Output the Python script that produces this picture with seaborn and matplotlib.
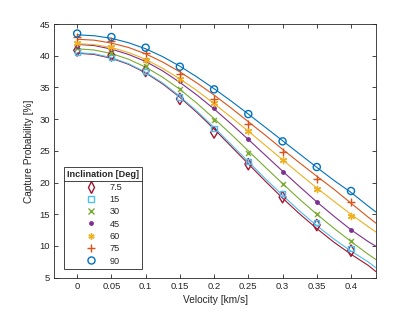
import numpy as np
import pandas as pd
import seaborn as sns
import matplotlib.pyplot as plt
from matplotlib.lines import Line2D

# measured capture probability [%] at each velocity [km/s]
velocity = [0, 0.05, 0.1, 0.15, 0.2, 0.25, 0.3, 0.35, 0.4]
inclinations = ['7.5', '15', '30', '45', '60', '75', '90']
meas = {
    '7.5': [40.85, 40.06, 37.6, 33.2, 27.9, 22.9, 17.7, 13.3, 9.26],
    '15': [40.6, 39.7, 37.5, 33.5, 28.5, 23.3, 18.3, 13.7, 9.6],
    '30': [41.27, 40.5, 38.4, 34.7, 29.9, 24.7, 19.8, 15.0, 10.8],
    '45': [41.6, 41.05, 39.27, 36.0, 31.8, 26.8, 21.65, 16.9, 12.5],
    '60': [42.05, 41.4, 39.4, 36.3, 32.5, 28.2, 23.55, 19.0, 14.8],
    '75': [43.0, 42.4, 40.5, 37.1, 33.2, 29.3, 24.8, 20.6, 17.0],
    '90': [43.5, 42.95, 41.27, 38.27, 34.7, 30.8, 26.5, 22.45, 18.67],
}

# fitted curves
fit_v = [0, 0.025, 0.05, 0.075, 0.1, 0.125, 0.15, 0.175, 0.2, 0.225,
         0.25, 0.275, 0.3, 0.325, 0.35, 0.375, 0.4, 0.425, 0.4365]
fit = {
    '7.5': [40.4, 40.2, 39.6, 38.65, 37.3, 35.55, 33.45, 31.05, 28.45, 25.7,
            22.95, 20.2, 17.55, 15.05, 12.75, 10.6, 8.7, 6.95, 5.95],
    '15': [40.5, 40.3, 39.7, 38.75, 37.4, 35.7, 33.6, 31.25, 28.7, 26.0,
           23.3, 20.6, 18.0, 15.5, 13.2, 11.1, 9.2, 7.5, 6.55],
    '30': [41.1, 40.9, 40.35, 39.45, 38.2, 36.6, 34.7, 32.5, 30.1, 27.6,
           25.0, 22.4, 19.85, 17.35, 15.0, 12.8, 10.7, 8.7, 7.85],
    '45': [41.8, 41.6, 41.05, 40.2, 39.1, 37.6, 35.8, 33.8, 31.6, 29.25,
           26.8, 24.3, 21.8, 19.35, 16.95, 14.7, 12.55, 10.7, 9.95],
    '60': [41.9, 41.75, 41.3, 40.5, 39.45, 38.0, 36.35, 34.5, 32.45, 30.3,
           28.1, 25.85, 23.6, 21.35, 19.15, 17.05, 15.0, 13.05, 12.2],
    '75': [42.6, 42.45, 42.0, 41.3, 40.3, 39.0, 37.45, 35.7, 33.8, 31.75,
           29.6, 27.45, 25.25, 23.1, 21.0, 18.95, 16.75, 14.55, 13.6],
    '90': [43.3, 43.15, 42.75, 42.05, 41.1, 39.85, 38.35, 36.65, 34.8, 32.85,
           30.8, 28.7, 26.6, 24.5, 22.4, 20.35, 18.45, 16.3, 15.35],
}

colors = ['#A2142F', '#4DBEEE', '#77AC30', '#7E2F8E', '#EDB120', '#D95319', '#0072BD']
markers = ['d', 's', 'x', 'o', (6, 2, 0), '+', 'o']
sizes = [34, 14, 13, 6, 20, 28, 26]
hollow = [True, True, False, False, False, False, True]

sns.set_style('ticks')
plt.rcParams['font.family'] = ['Liberation Sans', 'DejaVu Sans']
plt.rcParams['text.color'] = '#262626'
plt.rcParams['axes.labelcolor'] = '#262626'

fig = plt.figure(figsize=(4.15, 3.12), dpi=100)
ax = fig.add_axes([0.131, 0.110, 0.775, 0.813])

fit_df = pd.DataFrame([(inc, v, p) for inc in inclinations for v, p in zip(fit_v, fit[inc])],
                      columns=['inc', 'v', 'p'])
sns.lineplot(data=fit_df, x='v', y='p', hue='inc', palette=dict(zip(inclinations, colors)),
             lw=0.8, legend=False, ax=ax)

handles = []
for inc, c, m, s, h in zip(inclinations, colors, markers, sizes, hollow):
    if h:
        sns.scatterplot(x=velocity, y=meas[inc], marker=m, s=s, facecolor='none',
                        edgecolor=c, linewidth=1.0, ax=ax, zorder=3)
    else:
        sns.scatterplot(x=velocity, y=meas[inc], marker=m, s=s, color=c,
                        edgecolor=c, linewidth=1.0, ax=ax, zorder=3)
    handles.append(Line2D([], [], ls='', marker=m, markersize=np.sqrt(s),
                          markerfacecolor='none' if h else c, markeredgecolor=c,
                          markeredgewidth=1.0, label=inc))

ax.set_xlim(-0.0333, 0.4365)
ax.set_ylim(5, 45)
ax.set_xticks(velocity)
ax.set_xticklabels(['0', '0.05', '0.1', '0.15', '0.2', '0.25', '0.3', '0.35', '0.4'])
ax.set_yticks(range(5, 46, 5))
ax.tick_params(direction='in', top=True, right=True, length=3, width=0.6,
               labelsize=6.8, colors='#262626', pad=3)
for sp in ax.spines.values():
    sp.set_linewidth(0.6)
    sp.set_color('#262626')
ax.set_xlabel('Velocity [km/s]', fontsize=7.3, labelpad=3)
ax.set_ylabel('Capture Probability [%]', fontsize=7.3, labelpad=4)

leg = ax.legend(handles=handles, title='Inclination [Deg]', loc='lower left',
                bbox_to_anchor=(0.03, 0.035), borderaxespad=0, fontsize=6.6,
                title_fontproperties={'weight': 'bold', 'size': 6.6},
                fancybox=False, framealpha=1, edgecolor='#262626',
                handletextpad=1.3, labelspacing=0.36, borderpad=0.35, handlelength=1.5)
leg.get_frame().set_linewidth(0.6)

# separator under the legend title, like MATLAB
fig.canvas.draw()
fb = leg.get_frame().get_window_extent()
tb = leg.get_title().get_window_extent()
ysep = tb.y0 - 2
inv = fig.transFigure.inverted()
(x0, y0), (x1, _) = inv.transform([(fb.x0, ysep), (fb.x1, ysep)])
fig.add_artist(Line2D([x0, x1], [y0, y0], color='#262626', lw=0.6))

fig.savefig('out.png', dpi=100)
